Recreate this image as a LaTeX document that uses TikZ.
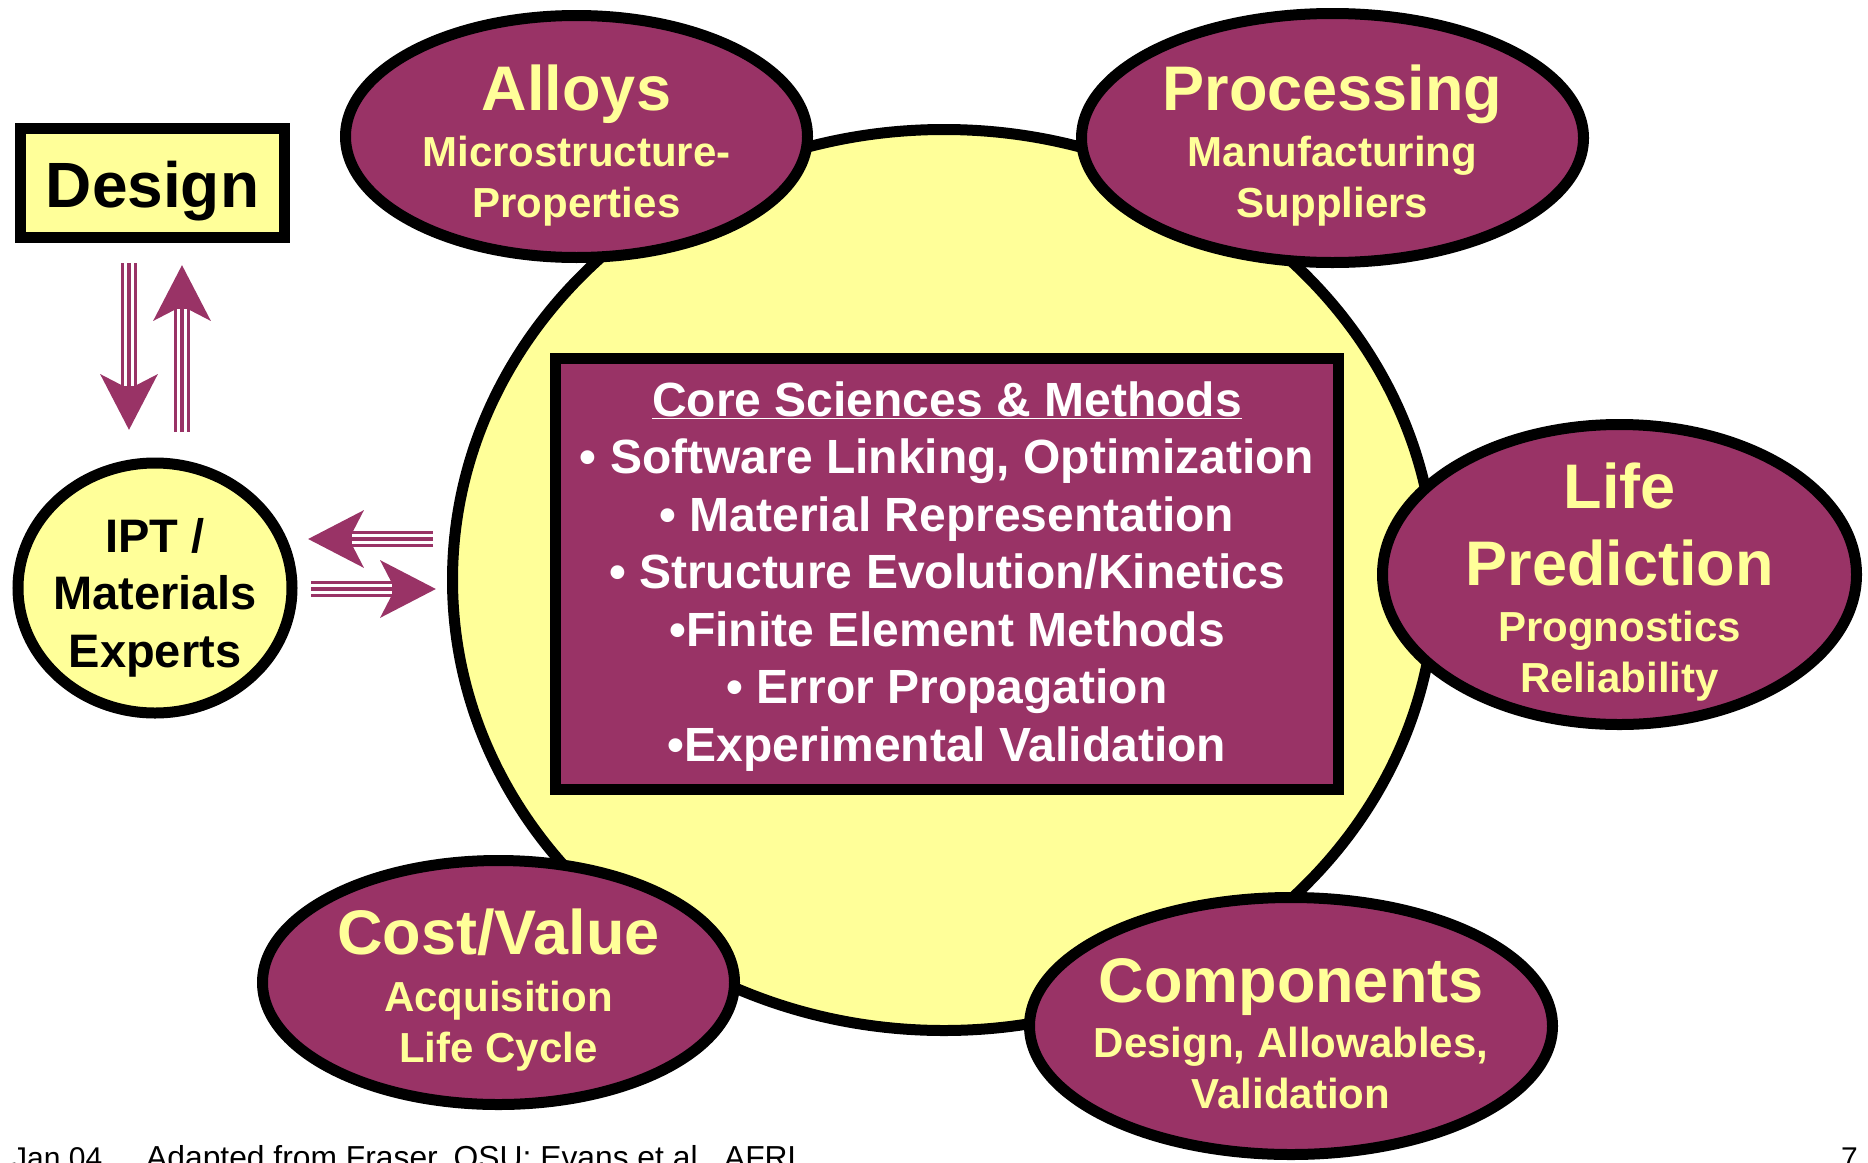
\documentclass[tikz,border=0pt]{standalone}
\usepackage{fontspec}
\setmainfont{Liberation Sans}
\usepackage{xcolor}
\usepackage{tikz}
\usetikzlibrary{shapes.geometric,arrows.meta}
\definecolor{plum}{HTML}{993366}
\definecolor{lemon}{HTML}{FFFF99}
\newcommand\bubbletitle{\fontsize{63}{63}\selectfont}
\newcommand\twinarrow[2]{%
  \draw[plum,line width=16pt,-{Stealth[length=55pt,width=56pt,inset=14pt]}] (#1) -- (#2);
  \draw[white,line width=9.6pt,shorten >=44pt] (#1) -- (#2);
  \draw[plum,line width=3.2pt,shorten >=44pt] (#1) -- (#2);}

\begin{document}
\begin{tikzpicture}[x=1pt,y=-1pt]
\tikzset{%
hub/.style={ellipse,draw,line width=11pt,fill=lemon,inner sep=0pt},
bubble/.style={ellipse,draw,line width=11pt,fill=plum,text=lemon,align=center,inner sep=0pt,
  inner xsep=-30pt,inner ysep=-40pt,font=\fontsize{42}{51}\selectfont\bfseries},
corebox/.style={rectangle,draw,line width=11pt,fill=plum,text=white,align=center,inner sep=0pt,
  font=\fontsize{48}{57.5}\selectfont\bfseries},
designbox/.style={rectangle,draw,line width=11pt,fill=lemon,inner sep=0pt,font=\fontsize{64}{64}\selectfont\bfseries},
expert/.style={ellipse,draw,line width=11pt,fill=lemon,align=center,inner sep=0pt,inner xsep=-20pt,
  font=\fontsize{47}{57.5}\selectfont\bfseries},
lift/.style={text height=#1,text depth=-#1},
foot/.style={inner sep=0pt,anchor=base west,font=\fontsize{30}{36}\selectfont}
}
\useasboundingbox (0,0) rectangle (1868,1162);

% yellow hub and the five topics round it
\node[hub,minimum width=983pt,minimum height=901pt] (hub) at (944,580) {};
\node[bubble,minimum width=462pt,minimum height=242pt,lift=161pt] (alloys) at (576.5,136.5)
  {{\bubbletitle Alloys}\\[5pt] Microstructure-\\ Properties};
\node[bubble,minimum width=502pt,minimum height=249pt,lift=158pt] (processing) at (1332.5,138)
  {{\bubbletitle Processing}\\[5pt] Manufacturing\\ Suppliers};
\node[bubble,minimum width=474pt,minimum height=300pt,lift=235pt] (life) at (1619.5,574.5)
  {{\bubbletitle Life}\\[26pt] {\bubbletitle Prediction}\\[5pt] Prognostics\\ Reliability};
\node[bubble,minimum width=472pt,minimum height=244pt,lift=159pt] (cost) at (498.5,982.5)
  {{\bubbletitle Cost/Value}\\[6pt] Acquisition\\ Life Cycle};
\node[bubble,minimum width=523pt,minimum height=257pt,lift=164pt] (components) at (1291,1026)
  {{\bubbletitle Components}\\[4pt] Design, Allowables,\\ Validation};

\node[corebox,minimum width=783pt,minimum height=431pt,lift=374pt] (core) at (947,574)
  {\underline{Core Sciences \& Methods}\\ • Software Linking, Optimization\\ • Material Representation\\
   • Structure Evolution/Kinetics\\ •Finite Element Methods\\ • Error Propagation\\ •Experimental Validation};

% left side
\node[designbox,minimum width=264pt,minimum height=109pt,lift=48pt] (design) at (152.5,183) {Design};
\node[expert,minimum width=274pt,minimum height=250pt,lift=158pt] (ipt) at (155,588) {IPT /\\ Materials\\ Experts};

\path ([xshift=-23.5pt,yshift=-20pt]design.south) coordinate (dtail);
\path (dtail |- ipt.north) ++(0,-27.5) coordinate (dtip);
\path ([xshift=29.5pt,yshift=-22pt]design.south) coordinate (utip);
\path (utip |- ipt.north) ++(0,-25.5) coordinate (utail);
\path ([xshift=10.5pt,yshift=49pt]ipt.east) coordinate (ltip);
\path (hub.west |- ltip) ++(-14,0) coordinate (ltail);
\path ([xshift=13.5pt,yshift=-1pt]ipt.east) coordinate (rtail);
\path (hub.west |- rtail) ++(-11,0) coordinate (rtip);
\twinarrow{dtail}{dtip}
\twinarrow{utail}{utip}
\twinarrow{ltail}{ltip}
\twinarrow{rtail}{rtip}

\node[foot] (date) at (12,1168) {Jan 04};
\node[foot,font=\fontsize{31.8}{36}\selectfont] (credit) at (146,1168) {Adapted from Fraser, OSU; Evans et al., AFRL};
\node[foot,anchor=base east] (pageno) at (1858,1168) {7};
\end{tikzpicture}
\end{document}
